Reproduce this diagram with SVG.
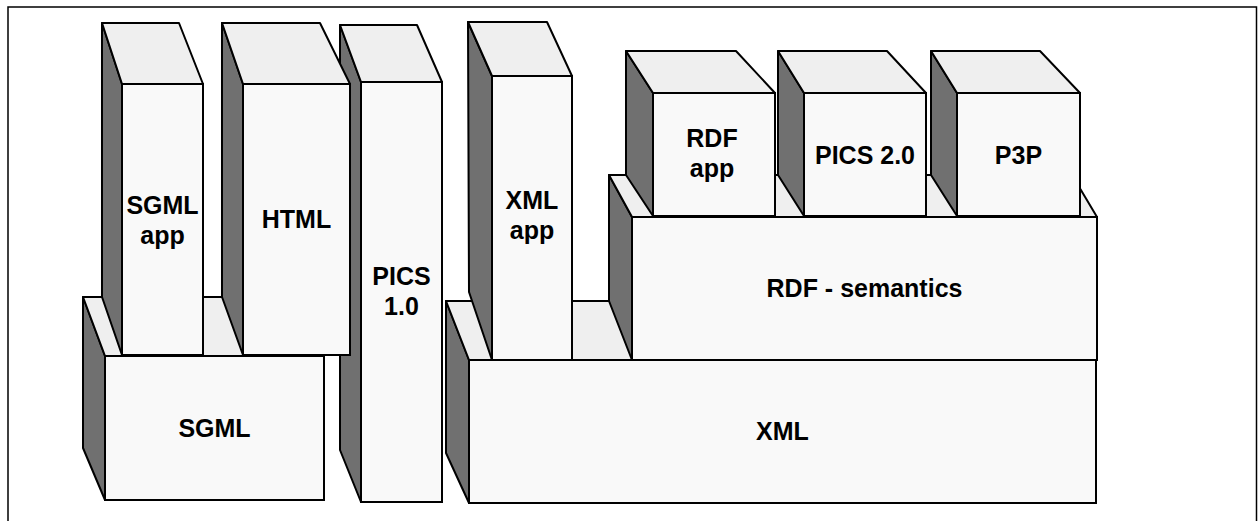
<svg xmlns="http://www.w3.org/2000/svg" width="1260" height="521" viewBox="0 0 1260 521">
  <style>
    .frame { fill: #ffffff; stroke: #000000; stroke-width: 1.5; }
    .front { fill: #f9f9f9; stroke: #000000; stroke-width: 2; stroke-linejoin: miter; }
    .top { fill: #efefef; stroke: #000000; stroke-width: 2; stroke-linejoin: round; }
    .side { fill: #707070; stroke: #000000; stroke-width: 2; stroke-linejoin: round; }
    .label { font-family: "Liberation Sans", Arial, sans-serif; font-weight: bold; font-size: 25px; fill: #000000; text-anchor: middle; }
  </style>

  <!-- outer border -->
  <rect class="frame" x="8" y="7" width="1248.5" height="530"/>

  <!-- PICS 1.0 column (drawn first so HTML overlaps its side) -->
  <g id="pics10">
    <polygon class="side" points="340,25 361,82 361,502 340,450"/>
    <polygon class="top" points="340,25 417,25 442,82 361,82"/>
    <rect class="front" x="361" y="82" width="81" height="420"/>
    <text class="label" x="401.5" y="285">PICS</text>
    <text class="label" x="401.5" y="315">1.0</text>
  </g>

  <!-- SGML base block -->
  <g id="sgml">
    <polygon class="side" points="83,297 105,356 105,500 83,448"/>
    <polygon class="top" points="83,297 302,297 324,356 105,356"/>
    <rect class="front" x="105" y="356" width="219" height="144"/>
    <text class="label" x="214.5" y="437">SGML</text>
  </g>

  <!-- SGML app column -->
  <g id="sgml-app">
    <polygon class="side" points="102,23 122,84 122,355 102,297"/>
    <polygon class="top" points="102,23 179,23 203,84 122,84"/>
    <rect class="front" x="122" y="84" width="81" height="271"/>
    <text class="label" x="162.5" y="213.5">SGML</text>
    <text class="label" x="162.5" y="243.5">app</text>
  </g>

  <!-- HTML column -->
  <g id="html">
    <polygon class="side" points="222,23 243,84 243,355 222,297"/>
    <polygon class="top" points="222,23 320,23 350,84 243,84"/>
    <rect class="front" x="243" y="84" width="107" height="271"/>
    <text class="label" x="296.5" y="228">HTML</text>
  </g>

  <!-- XML base block -->
  <g id="xml">
    <polygon class="side" points="446,301 469,360 469,503 446,453"/>
    <polygon class="top" points="446,301 1073,301 1096,360 469,360"/>
    <rect class="front" x="469" y="360" width="627" height="143"/>
    <text class="label" x="782.5" y="439.5">XML</text>
  </g>

  <!-- XML app column -->
  <g id="xml-app">
    <polygon class="side" points="468,22 492,76 492,360 469,292"/>
    <polygon class="top" points="468,22 547,22 572,76 492,76"/>
    <rect class="front" x="492" y="76" width="80" height="284"/>
    <text class="label" x="532" y="208.5">XML</text>
    <text class="label" x="532" y="238.5">app</text>
  </g>

  <!-- RDF semantics layer -->
  <g id="rdf-semantics">
    <polygon class="side" points="609,175 632,217 632,360 609,301"/>
    <polygon class="top" points="609,175 1072,175 1097,217 632,217"/>
    <rect class="front" x="632" y="217" width="465" height="143"/>
    <text class="label" x="864.5" y="297">RDF - semantics</text>
  </g>

  <!-- RDF app block -->
  <g id="rdf-app">
    <polygon class="side" points="626,51 653,93 653,216 626,175"/>
    <polygon class="top" points="626,51 736,51 775,93 653,93"/>
    <rect class="front" x="653" y="93" width="122" height="123"/>
    <text class="label" x="712" y="147">RDF</text>
    <text class="label" x="712" y="177">app</text>
  </g>

  <!-- PICS 2.0 block -->
  <g id="pics20">
    <polygon class="side" points="778,51 804,93 804,216 778,175"/>
    <polygon class="top" points="778,51 887,51 926,93 804,93"/>
    <rect class="front" x="804" y="93" width="122" height="123"/>
    <text class="label" x="865" y="163.5">PICS 2.0</text>
  </g>

  <!-- P3P block -->
  <g id="p3p">
    <polygon class="side" points="931,51 957,93 957,216 931,175"/>
    <polygon class="top" points="931,51 1040,51 1080,93 957,93"/>
    <rect class="front" x="957" y="93" width="123" height="123"/>
    <text class="label" x="1018.5" y="163.5">P3P</text>
  </g>

  <!-- no connectors in this diagram -->
  <g id="connectors"/>
</svg>
